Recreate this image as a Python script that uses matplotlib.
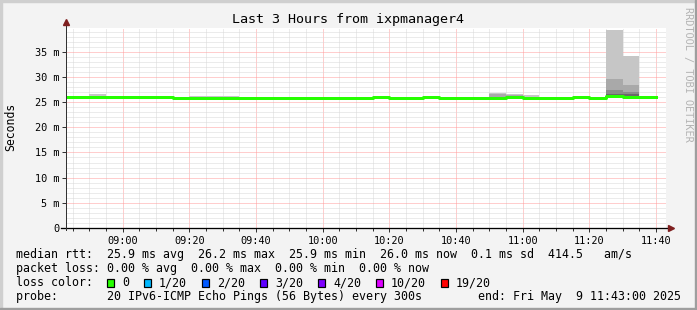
#!/usr/bin/env python3
import matplotlib
matplotlib.use("Agg")
import matplotlib.pyplot as plt
from matplotlib.patches import Rectangle
from matplotlib.ticker import MultipleLocator, FuncFormatter

# 5 minute steps (start time of each step)
step_starts = [
    "08:40", "08:45", "08:50", "08:55", "09:00", "09:05", "09:10", "09:15", "09:20",
    "09:25", "09:30", "09:35", "09:40", "09:45", "09:50", "09:55", "10:00", "10:05",
    "10:10", "10:15", "10:20", "10:25", "10:30", "10:35", "10:40", "10:45", "10:50",
    "10:55", "11:00", "11:05", "11:10", "11:15", "11:20", "11:25", "11:30", "11:35",
]
# median rtt per step, ms
median_ms = [
    26.0, 26.0, 26.0, 26.0, 26.0, 26.0, 26.0, 25.9, 25.9,
    25.9, 25.9, 25.9, 25.9, 25.9, 25.9, 25.9, 25.9, 25.9,
    25.9, 26.0, 25.9, 25.9, 26.0, 25.9, 25.9, 25.9, 25.9,
    25.95, 25.9, 25.9, 25.9, 26.0, 25.9, 26.2, 26.05, 26.0,
]
# smoke: sorted ping levels per step, ms (outer -> inner)
ping_min = [
    25.9, 25.9, 25.9, 25.9, 25.9, 25.9, 25.9, 25.8, 25.8,
    25.8, 25.8, 25.8, 25.8, 25.8, 25.8, 25.8, 25.8, 25.8,
    25.8, 25.9, 25.8, 25.8, 25.9, 25.8, 25.8, 25.8, 25.8,
    25.8, 25.8, 25.8, 25.8, 25.9, 25.8, 25.8, 25.9, 25.9,
]
ping_max = [
    26.1, 26.1, 26.5, 26.1, 26.1, 26.1, 26.1, 26.0, 26.3,
    26.3, 26.3, 26.0, 26.0, 26.0, 26.0, 26.0, 26.0, 26.0,
    26.0, 26.1, 26.0, 26.0, 26.1, 26.0, 26.0, 26.0, 26.7,
    26.6, 26.4, 26.0, 26.0, 26.1, 26.0, 39.3, 34.2, 26.1,
]
ping_q2 = [
    26.05, 26.05, 26.1, 26.05, 26.05, 26.05, 26.05, 25.95, 25.95,
    25.95, 25.95, 25.95, 25.95, 25.95, 25.95, 25.95, 25.95, 25.95,
    25.95, 26.05, 25.95, 25.95, 26.05, 25.95, 25.95, 25.95, 26.5,
    26.4, 26.0, 25.95, 25.95, 26.05, 25.95, 29.6, 28.3, 26.05,
]
ping_q3 = [
    26.0, 26.0, 26.0, 26.0, 26.0, 26.0, 26.0, 25.9, 25.9,
    25.9, 25.9, 25.9, 25.9, 25.9, 25.9, 25.9, 25.9, 25.9,
    25.9, 26.0, 25.9, 25.9, 26.0, 25.9, 25.9, 25.9, 25.9,
    25.95, 25.9, 25.9, 25.9, 26.0, 25.9, 27.3, 26.9, 26.0,
]
ping_q4 = [
    26.0, 26.0, 26.0, 26.0, 26.0, 26.0, 26.0, 25.9, 25.9,
    25.9, 25.9, 25.9, 25.9, 25.9, 25.9, 25.9, 25.9, 25.9,
    25.9, 26.0, 25.9, 25.9, 26.0, 25.9, 25.9, 25.9, 25.9,
    25.95, 25.9, 25.9, 25.9, 26.0, 25.9, 26.6, 26.5, 26.0,
]
smoke_colors = ["#c6c6c6", "#a9a9a9", "#8a8a8a", "#686868"]

loss_labels = ["0", "1/20", "2/20", "3/20", "4/20", "10/20", "19/20"]
loss_colors = ["#26ff00", "#00b8ff", "#0059ff", "#5e00ff", "#7e00ff", "#dd00ff", "#ff0000"]

title = "Last 3 Hours from ixpmanager4"
legend_lines = [
    "median rtt:  25.9 ms avg  26.2 ms max  25.9 ms min  26.0 ms now  0.1 ms sd  414.5   am/s",
    "packet loss: 0.00 % avg  0.00 % max  0.00 % min  0.00 % now",
    "loss color:",
    "probe:       20 IPv6-ICMP Echo Pings (56 Bytes) every 300s",
]
end_text = "end: Fri May  9 11:43:00 2025"
view_start, view_end = "08:43", "11:43"


def to_min(s):
    h, m = s.split(":")
    return int(h) * 60 + int(m)


W, H = 697, 310
PX = 72 / 100  # one pixel in points


def fx(x):
    return x / W


def fy(y):
    return 1 - y / H


plt.rcParams["font.family"] = "DejaVu Sans Mono"

fig = plt.figure(figsize=(W / 100, H / 100), dpi=100, facecolor="#f3f3f3")

# 3d frame
fig.patches.append(Rectangle((0, fy(2)), 1, 2 / H, transform=fig.transFigure, color="#cfcfcf", zorder=0))
fig.patches.append(Rectangle((0, 0), 2 / W, 1, transform=fig.transFigure, color="#cfcfcf", zorder=0))
fig.patches.append(Rectangle((fx(695), 0), 2 / W, 1, transform=fig.transFigure, color="#9e9e9e", zorder=0))
fig.patches.append(Rectangle((0, 0), 1, 2 / H, transform=fig.transFigure, color="#9e9e9e", zorder=0))

ax = fig.add_axes([fx(66), fy(228), 600 / W, 200 / H])
ax.set_facecolor("white")

x = [to_min(s) for s in step_starts]
x_edges = x + [x[-1] + 5]


def ext(v):
    return list(v) + [v[-1]]


for top, col in zip([ping_max, ping_q2, ping_q3, ping_q4], smoke_colors):
    ax.fill_between(x_edges, ext(ping_min), ext(top), step="post", color=col, linewidth=0, zorder=2)

ax.step(x_edges, ext(median_ms), where="post", color=loss_colors[0], linewidth=3 * PX, zorder=3)

ax.set_xlim(to_min(view_start), to_min(view_end))
ax.set_ylim(0, 39.7)

ax.xaxis.set_major_locator(MultipleLocator(20))
ax.xaxis.set_minor_locator(MultipleLocator(5))
ax.xaxis.set_major_formatter(FuncFormatter(lambda v, p: f"{int(v) // 60:02d}:{int(v) % 60:02d}"))
ax.yaxis.set_major_locator(MultipleLocator(5))
ax.yaxis.set_minor_locator(MultipleLocator(1))
ax.yaxis.set_major_formatter(FuncFormatter(lambda v, p: "0" if v == 0 else f"{int(v)} m"))

ax.grid(which="minor", color="#d8d8d8", linestyle=(0, (1, 1)), linewidth=PX, zorder=1)
ax.grid(which="major", color="#ff9c9c", linestyle=(0, (1, 1)), linewidth=PX, zorder=1)
ax.set_axisbelow(True)

for s in ["top", "right", "left", "bottom"]:
    ax.spines[s].set_visible(False)

# axes with arrows
ax.plot([-0.008, 1.008], [0, 0], transform=ax.transAxes, color="black", lw=PX * 1.3, clip_on=False, zorder=5)
ax.plot([0, 0], [-0.01, 1.03], transform=ax.transAxes, color="#333333", lw=PX, clip_on=False, zorder=5)
ax.plot([0], [1.03], marker="^", markersize=4, color="#7f1f1f", transform=ax.transAxes, clip_on=False, zorder=6)
ax.plot([1.008], [0], marker=">", markersize=4, color="#7f1f1f", transform=ax.transAxes, clip_on=False, zorder=6)

ax.tick_params(which="major", length=3, width=PX, color="#333333", labelsize=7.4, pad=2)
ax.tick_params(axis="x", which="minor", length=2, width=PX, color="#333333")
ax.tick_params(axis="y", which="minor", length=0)
ax.tick_params(axis="x", which="major", pad=3)

fig.text(fx(348), fy(19), title, ha="center", va="center", fontsize=9.6)
fig.text(fx(11), fy(127), "Seconds", ha="center", va="center", rotation=90, fontsize=8.3)
fig.text(fx(688), fy(74), "RRDTOOL / TOBI OETIKER", ha="center", va="center",
         rotation=270, fontsize=7.4, color="#b4b4b4")

cw = 7.0  # legend char width in px
rows = [254.5, 268.5, 282.5, 296.5]
for text, yy in zip(legend_lines, rows):
    fig.text(fx(16), fy(yy), text, ha="left", va="center", fontsize=8.4)
fig.text(fx(681), fy(rows[3]), end_text, ha="right", va="center", fontsize=8.4)

bx = 16 + 13 * cw
for lab, col in zip(loss_labels, loss_colors):
    fig.patches.append(Rectangle((fx(bx), fy(rows[2] + 4)), 7 / W, 8 / H, transform=fig.transFigure,
                                 facecolor=col, edgecolor="black", linewidth=PX * 1.2, zorder=3))
    fig.text(fx(bx + 15), fy(rows[2]), lab, ha="left", va="center", fontsize=8.4)
    bx = bx + 15 + len(lab) * cw + 15

fig.savefig("out.png", dpi=100, facecolor=fig.get_facecolor())
